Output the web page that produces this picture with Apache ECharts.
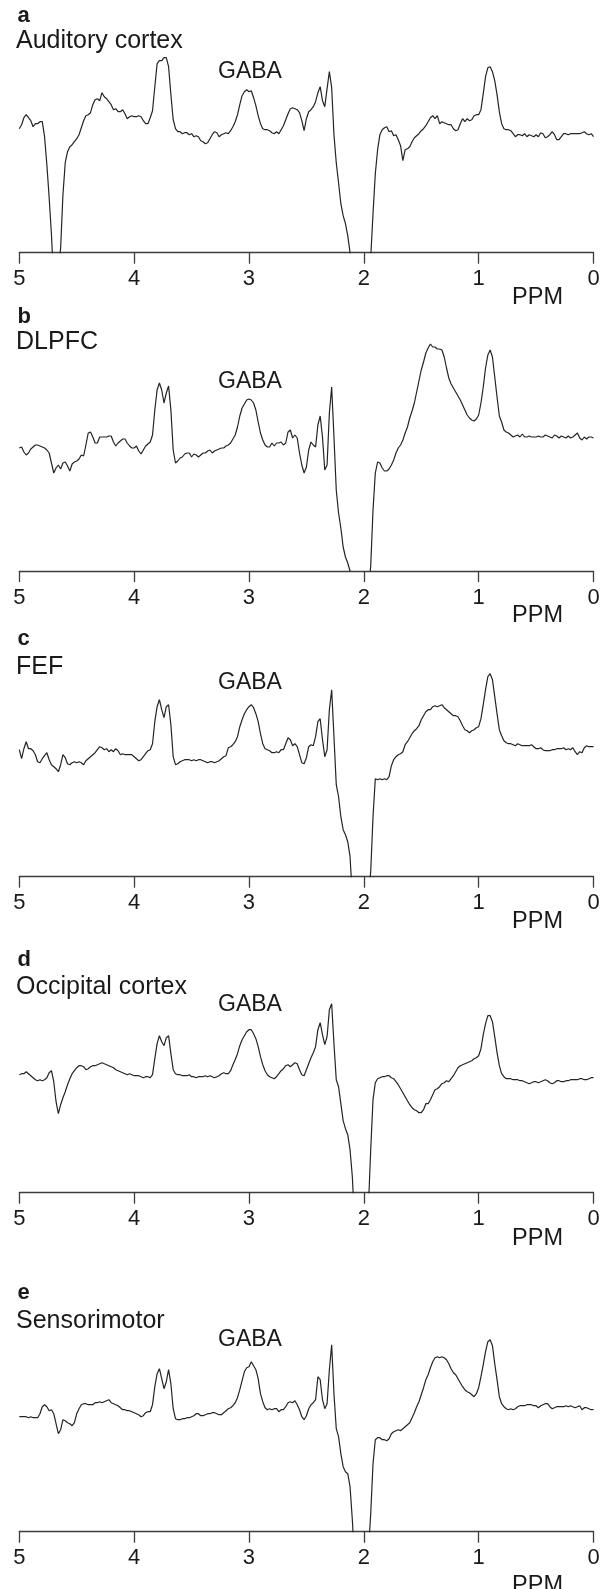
<!DOCTYPE html>
<html>
<head>
<meta charset="utf-8">
<script src="https://cdn.jsdelivr.net/npm/echarts@6/dist/echarts.min.js"></script>
<style>
html,body{margin:0;padding:0;background:#fff;}
#chart{width:603px;height:1589px;}
</style>
</head>
<body>
<div id="chart"></div>
<script>
// chemical shift grid (ppm), shared by all spectra
const PPM = [
5,4.98,4.96,4.94,4.92,4.9,4.88,4.86,4.84,4.82,
4.8,4.78,4.76,4.74,4.72,4.7,4.68,4.66,4.64,4.62,
4.6,4.58,4.56,4.54,4.52,4.5,4.48,4.46,4.44,4.42,
4.4,4.38,4.36,4.34,4.32,4.3,4.28,4.26,4.24,4.22,
4.2,4.18,4.16,4.14,4.12,4.1,4.08,4.06,4.04,4.02,
4,3.98,3.96,3.94,3.92,3.9,3.88,3.86,3.84,3.82,
3.8,3.78,3.76,3.74,3.72,3.7,3.68,3.66,3.64,3.62,
3.6,3.58,3.56,3.54,3.52,3.5,3.48,3.46,3.44,3.42,
3.4,3.38,3.36,3.34,3.32,3.3,3.28,3.26,3.24,3.22,
3.2,3.18,3.16,3.14,3.12,3.1,3.08,3.06,3.04,3.02,
3,2.98,2.96,2.94,2.92,2.9,2.88,2.86,2.84,2.82,
2.8,2.78,2.76,2.74,2.72,2.7,2.68,2.66,2.64,2.62,
2.6,2.58,2.56,2.54,2.52,2.5,2.48,2.46,2.44,2.42,
2.4,2.38,2.36,2.34,2.32,2.3,2.28,2.26,2.24,2.22,
2.2,2.18,2.16,2.14,2.12,2.1,2.08,2.06,2.04,2.02,
2,1.98,1.96,1.94,1.92,1.9,1.88,1.86,1.84,1.82,
1.8,1.78,1.76,1.74,1.72,1.7,1.68,1.66,1.64,1.62,
1.6,1.58,1.56,1.54,1.52,1.5,1.48,1.46,1.44,1.42,
1.4,1.38,1.36,1.34,1.32,1.3,1.28,1.26,1.24,1.22,
1.2,1.18,1.16,1.14,1.12,1.1,1.08,1.06,1.04,1.02,
1,0.98,0.96,0.94,0.92,0.9,0.88,0.86,0.84,0.82,
0.8,0.78,0.76,0.74,0.72,0.7,0.68,0.66,0.64,0.62,
0.6,0.58,0.56,0.54,0.52,0.5,0.48,0.46,0.44,0.42,
0.4,0.38,0.36,0.34,0.32,0.3,0.28,0.26,0.24,0.22,
0.2,0.18,0.16,0.14,0.12,0.1,0.08,0.06,0.04,0.02,
0
];

// spectrum intensities (a.u.), one value per PPM entry
const AUDITORY = [
124,128,135,138,135, 132,126,129,129,131,
131,116,88,55,18, -30,-60,-20,5,58,
90,101,106,108,111, 114,118,125,132,137,
138,140,148,153,154, 152,160,156,154,151,
148,143,144,141,141, 143,139,134,136,137,
136,136,137,136,132, 129,129,135,142,166,
189,192,192,195,195, 186,158,133,124,121,
121,119,120,120,118, 119,116,117,116,112,
111,109,110,114,118, 121,120,116,118,119,
120,119,122,126,131, 138,148,157,161,163,
161,162,155,147,137, 129,124,123,123,122,
120,119,121,119,123, 127,133,139,144,145,
144,143,140,132,122, 134,141,143,146,151,
160,166,152,146,164, 181,165,118,90,70,
49,37,29,17,0, -30,-60,-80,-80,-80,
-80,-60,-30,-5,39, 79,103,118,123,125,
126,121,122,117,118, 113,107,92,103,104,
106,111,115,117,119, 122,124,127,131,135,
137,134,137,129,131, 130,129,128,128,124,
122,123,129,134,131, 134,132,133,137,138,
138,143,159,176,185, 186,181,172,158,141,
129,124,123,123,122, 119,116,118,118,117,
119,116,118,117,116, 118,116,120,119,115,
116,118,121,118,113, 113,116,119,119,118,
119,119,119,119,119, 120,121,119,118,119,
116
];

const DLPFC = [
123,124,119,116,118, 122,124,126,126,125,
124,123,121,118,108, 98,103,106,102,108,
109,105,100,107,109, 110,112,116,115,126,
138,139,134,128,128, 134,134,134,134,135,
135,129,125,128,130, 132,132,128,125,123,
123,125,120,117,121, 125,127,129,136,161,
181,188,181,168,178, 185,161,121,108,110,
113,114,117,118,118, 114,117,116,114,116,
118,118,120,121,118, 120,121,122,123,123,
125,126,128,132,136, 144,155,163,167,171,
172,171,168,161,149, 138,131,126,124,124,
128,125,128,128,129, 126,128,139,141,133,
136,133,118,106,98, 104,121,129,126,124,
146,155,134,101,106, 158,184,134,81,58,
43,24,14,8,0, -30,-60,-80,-80,-80,
-80,-60,-20,5,61, 98,109,108,103,100,
100,102,106,111,118, 123,126,131,138,144,
153,160,168,179,190, 201,209,218,223,227,
224,224,222,222,221, 214,203,193,187,183,
179,175,171,166,161, 156,153,151,150,152,
156,168,184,203,216, 221,214,194,174,155,
149,141,139,138,136, 134,135,136,134,137,
134,134,135,134,134, 134,135,134,134,136,
135,134,133,136,135, 133,135,134,133,135,
133,134,136,138,133, 131,134,132,134,134,
133
];

const FEF = [
127,118,128,135,128, 128,126,122,115,114,
118,121,124,117,112, 110,108,105,112,122,
119,113,112,114,115, 114,115,114,112,116,
118,120,122,124,127, 130,129,127,128,125,
127,125,128,126,122, 123,122,122,122,122,
120,118,116,117,120, 123,126,127,133,155,
170,177,167,159,170, 172,152,120,112,113,
115,116,117,117,117, 116,117,116,117,117,
116,115,114,115,115, 114,115,116,118,120,
121,129,130,132,135, 140,150,157,163,167,
170,172,169,163,155, 143,133,128,127,126,
124,124,125,124,127, 127,133,139,137,131,
133,130,122,114,113, 119,130,132,131,140,
155,158,137,120,127, 167,187,140,92,80,
60,47,42,35,20, -20,-60,-80,-80,-80,
-80,-60,-20,5,60, 98,97,98,97,98,
97,100,111,117,120, 122,123,125,132,135,
139,143,146,148,151, 157,161,165,167,167,
170,171,170,171,172, 169,167,165,163,161,
161,160,156,151,147, 146,144,146,147,149,
150,158,172,187,200, 203,197,180,163,147,
141,136,134,133,133, 132,131,133,132,131,
131,131,131,132,130, 128,128,129,127,126,
126,126,127,127,128, 128,128,129,127,128,
127,129,125,122,125, 124,129,131,130,130,
130
];

const OCCIPITAL = [
118,119,119,121,119, 117,115,113,112,113,
112,113,115,120,122, 111,91,79,88,95,
101,108,114,119,122, 125,127,127,126,123,
124,126,127,127,128, 129,130,129,128,127,
126,125,123,122,121, 120,119,118,119,118,
117,117,117,116,115, 116,116,115,118,134,
149,157,151,147,155, 157,139,123,119,118,
118,117,117,117,118, 116,116,115,116,116,
116,117,116,117,116, 115,116,117,119,120,
119,119,122,128,133, 139,147,153,157,161,
163,163,159,154,146, 136,128,122,118,116,
115,114,116,119,122, 124,127,128,126,128,
130,129,123,118,117, 123,129,135,140,146,
163,170,158,148,156, 183,189,149,113,106,
89,72,64,58,43, 16,-30,-80,-80,-80,
-80,-60,-15,43,93, 110,114,115,116,116,
117,117,115,114,111, 108,104,100,96,92,
88,85,83,82,80, 80,83,89,89,93,
98,103,104,106,109, 110,112,111,114,117,
121,125,127,128,129, 130,131,132,134,135,
137,144,158,169,177, 177,171,156,140,127,
119,116,114,114,114, 113,113,113,112,112,
111,110,109,110,111, 111,110,111,112,113,
112,110,109,110,112, 112,111,111,112,112,
113,113,113,113,114, 114,113,113,114,115,
115
];

const SENSORIMOTOR = [
115,115,115,115,114, 115,114,114,114,118,
125,127,125,121,122, 118,108,98,102,112,
111,109,108,106,109, 118,123,127,128,128,
127,127,127,129,129, 130,129,130,131,132,
129,128,127,126,124, 122,122,121,121,120,
119,118,117,115,116, 119,120,120,127,145,
158,163,153,143,150, 162,148,123,113,112,
112,113,113,114,114, 115,116,118,118,116,
116,117,118,118,119, 119,118,117,117,119,
121,123,124,126,129, 134,142,151,160,164,
165,170,166,162,153, 138,130,124,122,123,
122,123,123,120,122, 122,125,129,130,129,
131,127,122,115,112, 116,123,127,129,132,
155,152,132,123,128, 162,187,138,103,95,
78,65,60,58,45, 12,-30,-80,-80,-80,
-80,-60,-20,18,68, 92,94,94,92,92,
91,93,98,100,101, 102,101,103,105,107,
109,114,119,125,130, 137,144,152,157,164,
170,174,175,174,175, 174,172,168,163,159,
157,153,149,145,142, 140,139,137,135,138,
144,155,167,180,190, 192,186,168,152,135,
128,125,123,122,123, 122,123,125,126,126,
126,127,127,127,126, 126,124,126,127,128,
128,125,123,124,125, 125,125,125,126,125,
126,125,124,125,126, 122,124,124,123,122,
122
];

const PANEL_LETTERS = ['a','b','c','d','e'];
const PANEL_NAMES = ['Auditory cortex','DLPFC','FEF','Occipital cortex','Sensorimotor'];
const PANEL_VALUES = [AUDITORY, DLPFC, FEF, OCCIPITAL, SENSORIMOTOR];
const X_TICKS = [0,1,2,3,4,5];
const PEAK_LABEL = 'GABA';
const AXIS_NAME = 'PPM';

// layout (pixels)
const AXIS_Y   = [252.7, 571, 876.7, 1192.7, 1531.7];
const LETTER_B = [23.5, 324.5, 647, 968, 1300.7];
const TITLE_B  = [50, 350.7, 675.7, 996, 1329.3];
const GABA_B   = [79.3, 390, 691, 1013, 1348];
const PPM_CAP  = [289, 607, 912.5, 1230, 1576.7];
const PLOT_H = 240, LEFT = 19.3, RIGHT = 9.5;
const FONT = "'Liberation Sans', Arial, Helvetica, sans-serif";
const BASE_K = 0.8465; // baseline offset of top-aligned text (fraction of font size)
const PPM_FS = 23.5;

const grids = [], xAxes = [], yAxes = [], series = [], graphics = [];
function txt(str, x, baseline, size, align, weight) {
  graphics.push({
    type: 'text', silent: true,
    style: {
      text: str, x: x, y: baseline - BASE_K * size,
      font: (weight || 'normal') + ' ' + size + 'px ' + FONT,
      fill: '#1a1a1a', textAlign: align, textVerticalAlign: 'top',
      align: align, verticalAlign: 'top'
    }
  });
}
PANEL_VALUES.forEach(function (vals, i) {
  grids.push({ left: LEFT, right: RIGHT, top: AXIS_Y[i] - PLOT_H, height: PLOT_H, containLabel: false });
  xAxes.push({
    type: 'value', gridIndex: i, min: 0, max: 5, interval: 1, inverse: true,
    axisLine: { show: true, onZero: false, lineStyle: { color: '#3c3c3c', width: 1.3 } },
    axisTick: { show: true, length: 11, lineStyle: { color: '#3c3c3c', width: 1.3 } },
    axisLabel: { show: true, margin: 15.5, color: '#1a1a1a', fontSize: 22, fontFamily: FONT,
                 formatter: function (v) { return X_TICKS.indexOf(v) >= 0 ? String(v) : ''; } },
    splitLine: { show: false }
  });
  yAxes.push({ type: 'value', gridIndex: i, min: 0, max: PLOT_H, show: false });
  series.push({
    type: 'line', xAxisIndex: i, yAxisIndex: i, showSymbol: false, symbol: 'none',
    clip: true, smooth: false, animation: false,
    lineStyle: { color: '#242424', width: 1.2 },
    data: PPM.map(function (p, k) { return [p, vals[k]]; })
  });
  txt(PANEL_LETTERS[i], 17.5, LETTER_B[i], 22, 'left', 'bold');
  txt(PANEL_NAMES[i], 16, TITLE_B[i], 25, 'left');
  txt(PEAK_LABEL, 250, GABA_B[i], 23, 'center');
  txt(AXIS_NAME, 537.5, PPM_CAP[i] + 0.716 * PPM_FS, PPM_FS, 'center');
});

const chart = echarts.init(document.getElementById('chart'), null, { renderer: 'canvas' });
chart.setOption({
  backgroundColor: '#ffffff',
  animation: false,
  grid: grids, xAxis: xAxes, yAxis: yAxes, series: series,
  graphic: graphics
});
</script>
</body>
</html>
